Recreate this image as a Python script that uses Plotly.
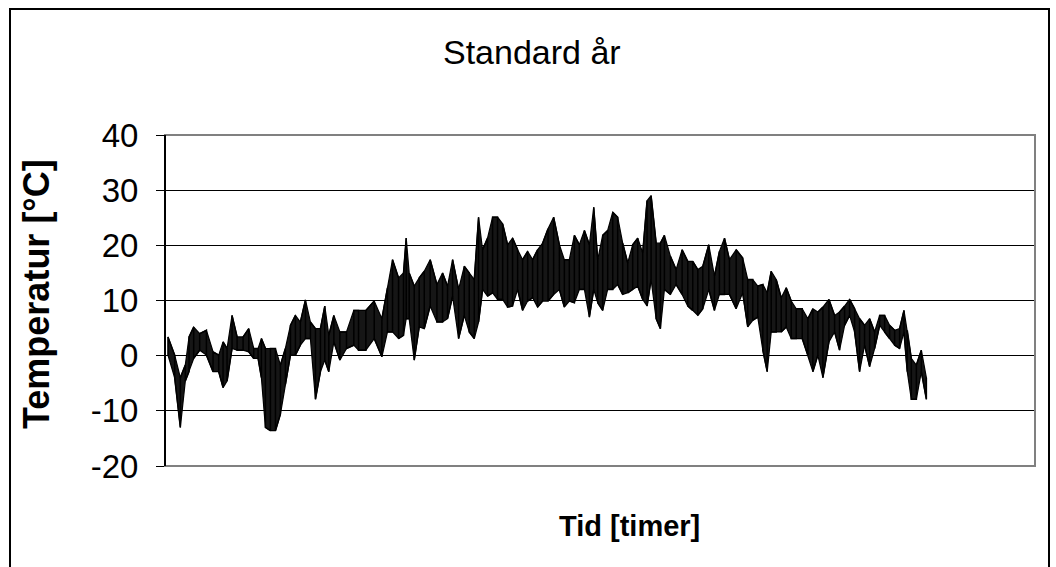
import plotly.graph_objects as go

# hour of year at which each reading block sits
hours = [34, 111, 176, 233, 276, 329, 398, 475, 551, 616, 666, 712, 769, 827, 896, 961,
         1018, 1068, 1106, 1152, 1209, 1267, 1324, 1381, 1439, 1496, 1553, 1611, 1668,
         1726, 1783, 1833, 1879, 1937, 2006, 2082, 2166,
         2220, 2304, 2400, 2488, 2552, 2610, 2679, 2736, 2767, 2801, 2859, 2916, 2974,
         3042, 3119, 3184, 3241, 3299, 3368, 3433, 3490, 3548, 3597, 3643, 3700, 3758,
         3815, 3873, 3930, 3987, 4045, 4102, 4160, 4217, 4274, 4332,
         4394, 4458, 4524, 4581, 4638, 4696, 4753, 4811, 4868, 4918, 4964, 5021, 5078,
         5136, 5193, 5250, 5308, 5365, 5423, 5480, 5530, 5576, 5634, 5683, 5729, 5798,
         5863, 5932, 5997, 6054, 6112, 6169, 6238, 6303, 6360, 6418, 6475, 6552,
         6627, 6685, 6742, 6800, 6858, 6908, 6954, 7011, 7069, 7126, 7184, 7241, 7310,
         7375, 7432, 7489, 7547, 7616, 7681, 7738, 7796, 7853, 7911, 7968, 8025, 8083,
         8140, 8198, 8255, 8312, 8370, 8427, 8477, 8515, 8561, 8619, 8676, 8734]

# lowest temperature in each block [°C]
temp_low = [0.1, -4.0, -13.0, -4.6, -2.9, -0.5, 1.0, 0.1, -2.9, -2.9, -5.8, -4.6, 1.3, 1.0,
            1.0, 0.7, -0.5, -0.5, -4.0, -13.0, -13.6, -13.6, -10.6, -5.2, 0.1, 0.1, 1.9,
            3.1, 3.1, -7.9, -2.9, -0.8, -2.9, 2.5, -0.8, 1.3, 1.9,
            1.0, 1.0, 3.1, -0.2, 4.3, 4.3, 3.1, 3.7, 6.7, 6.7, -0.8, 5.2, 4.9,
            9.0, 6.1, 6.1, 6.7, 10.8, 3.1, 7.3, 4.3, 3.1, 6.1, 12.0, 10.8, 11.4,
            10.2, 10.2, 8.8, 9.0, 12.0, 8.2, 9.9, 10.5, 8.8, 9.9,
            9.9, 11.1, 12.0, 8.8, 9.9, 9.6, 12.0, 12.0, 7.0, 12.0, 9.6, 8.2, 12.0,
            12.0, 12.9, 11.1, 11.4, 12.0, 12.6, 10.2, 9.0, 13.8, 6.7, 4.9, 12.0, 11.1,
            12.9, 11.1, 9.0, 8.2, 7.3, 8.5, 12.0, 8.2, 11.1, 11.1, 11.1, 8.5,
            11.4, 5.2, 6.4, 7.0, 1.0, -2.9, 4.3, 4.3, 4.3, 5.2, 3.1, 3.1, 3.1,
            0.1, -2.9, 0.1, -4.0, 2.5, 4.3, 1.0, 5.5, 7.3, 4.3, -2.9, 1.9, -2.0,
            1.3, 5.5, 4.3, 3.1, 1.9, 1.3, 4.3, -2.9, -7.9, -7.9, -2.9, -7.9]

# highest temperature in each block [°C]
temp_high = [3.4, 0.1, -4.0, -1.7, 3.4, 5.2, 4.0, 4.6, 0.7, 0.1, 2.5, 1.3, 7.3, 3.4,
             3.4, 4.9, 1.3, 1.3, 3.1, 1.3, 1.3, 1.3, -1.7, 1.3, 5.5, 7.3, 6.1,
             10.1, 6.1, 4.9, 4.9, 9.0, 3.7, 7.3, 4.3, 4.3, 8.2,
             8.2, 8.2, 9.9, 6.7, 12.3, 17.4, 14.1, 15.0, 21.3, 15.0, 12.6, 14.1, 15.3,
             17.4, 12.9, 15.0, 12.6, 17.4, 12.0, 16.2, 15.0, 13.8, 25.1, 19.2, 21.3, 25.1,
             25.1, 23.9, 20.1, 21.3, 19.2, 17.4, 18.9, 17.4, 19.2, 20.4,
             23.0, 25.1, 20.1, 17.4, 17.4, 21.8, 20.1, 22.7, 20.1, 26.9, 17.4, 21.8, 22.7,
             26.0, 25.1, 20.4, 16.8, 20.1, 21.3, 18.6, 28.1, 29.0, 20.4, 20.4, 21.8, 18.0,
             15.6, 19.2, 17.1, 17.1, 15.6, 16.2, 20.1, 14.4, 18.9, 21.3, 17.4, 19.2,
             17.7, 13.8, 13.8, 12.6, 12.9, 11.4, 15.3, 13.8, 10.5, 12.3, 9.9, 8.5, 8.5,
             6.7, 8.5, 7.9, 8.8, 10.2, 7.3, 7.9, 9.0, 10.2, 8.5, 6.7, 5.5, 6.7,
             4.3, 7.3, 7.3, 5.5, 4.6, 4.9, 8.2, 4.6, -0.5, -1.7, 1.0, -4.0]

y_ticks = [-20, -10, 0, 10, 20, 30, 40]
y_tick_labels = ["-20", "-10", "0", "10", "20", "30", "40"]

# vertical strokes, alternating direction so the joins follow the envelope
xs, ys = [], []
for k, (h, lo, hi) in enumerate(zip(hours, temp_low, temp_high)):
    xs += [h, h]
    ys += [lo, hi] if k % 2 == 0 else [hi, lo]

# band polygon between the block lows and highs
band_x = hours + hours[::-1]
band_y = temp_high + temp_low[::-1]

# pixel helpers for layout placement (plot area 165..1035 x 135..466)
L, R, T, B = 165, 1035, 135, 466
def px(x):
    return (x - L) / (R - L)
def py(y):
    return (B - y) / (B - T)

FONT = "Liberation Sans, Arial, sans-serif"

fig = go.Figure()
fig.add_trace(go.Scatter(x=band_x, y=band_y, mode="lines", fill="toself",
                         fillcolor="#161616", line=dict(color="black", width=1.2),
                         hoverinfo="skip"))
fig.add_trace(go.Scatter(x=xs, y=ys, mode="lines",
                         line=dict(color="black", width=1.5), hoverinfo="skip"))

fig.update_layout(
    width=1056, height=567,
    margin=dict(l=L, r=1056 - R, t=T, b=567 - B, autoexpand=False),
    paper_bgcolor="white", plot_bgcolor="white",
    showlegend=False,
    font=dict(family=FONT, color="black"),
    xaxis=dict(range=[0, 9980], showticklabels=False, ticks="", showgrid=False,
               zeroline=False, showline=False),
    yaxis=dict(range=[-20, 40], tickvals=y_ticks, ticktext=y_tick_labels,
               ticks="outside", ticklen=8,
               tickcolor="black", tickwidth=1, ticklabelstandoff=11,
               tickfont=dict(size=33, family=FONT), automargin=False,
               showgrid=True, gridcolor="black", gridwidth=1,
               zeroline=False, showline=False),
    shapes=[
        # plot-area border (gray)
        dict(type="rect", xref="paper", yref="paper", x0=0, x1=1, y0=0, y1=1,
             line=dict(color="#808080", width=2), layer="above"),
        # y-axis line (black)
        dict(type="line", xref="paper", yref="paper", x0=0, x1=0, y0=0, y1=1,
             line=dict(color="black", width=2), layer="above"),
        # outer chart border
        dict(type="rect", xref="paper", yref="paper",
             x0=px(10), x1=px(1049), y0=py(580), y1=py(9),
             line=dict(color="black", width=2)),
    ],
    annotations=[
        dict(text="Standard år", xref="paper", yref="paper", x=px(532), y=py(52),
             showarrow=False, xanchor="center", yanchor="middle",
             font=dict(size=34)),
        dict(text="<b>Temperatur [°C]</b>", xref="paper", yref="paper", x=px(36), y=py(294),
             showarrow=False, textangle=-90, xanchor="center", yanchor="middle",
             font=dict(size=36)),
        dict(text="<b>Tid [timer]</b>", xref="paper", yref="paper", x=px(629), y=py(526),
             showarrow=False, xanchor="center", yanchor="middle",
             font=dict(size=29)),
    ],
)

fig.write_html("out.html", config={"displayModeBar": False},
               post_script="document.body.style.margin='0';")
